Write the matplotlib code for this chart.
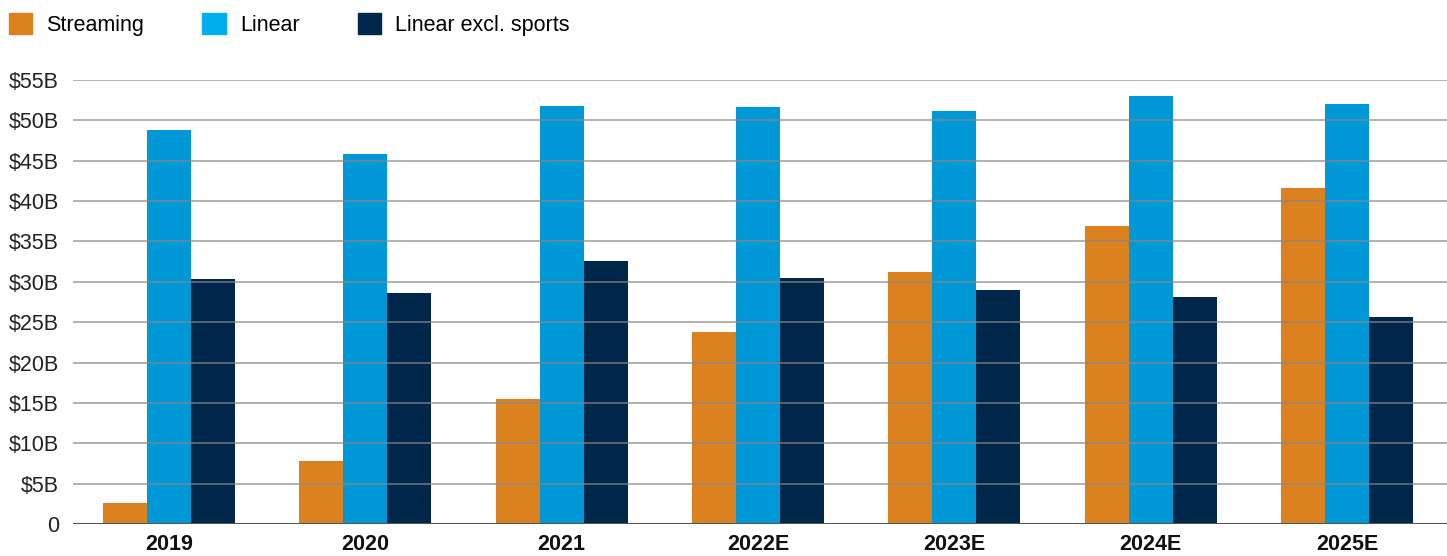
import matplotlib
matplotlib.use("Agg")
import matplotlib.pyplot as plt
from matplotlib.patches import Patch
import numpy as np

plt.rcParams['font.family'] = ['Liberation Sans', 'DejaVu Sans']

years = ['2019', '2020', '2021', '2022E', '2023E', '2024E', '2025E']
streaming = [2.6, 7.8, 15.5, 23.8, 31.2, 36.9, 41.6]
linear = [48.8, 45.8, 51.8, 51.7, 51.2, 53.0, 52.0]
linear_ex = [30.4, 28.6, 32.6, 30.5, 29.0, 28.1, 25.6]

c_stream = '#DC8120'
c_lin = '#0098D7'
c_lin_leg = '#00AEEF'
c_ex = '#00264A'

fig = plt.figure(figsize=(14.47, 5.56), dpi=100)
ax = fig.add_axes([0.0504, 0.0576, 0.9496, 0.7985])

x = np.arange(len(years))
w = 0.224
ax.bar(x - w, streaming, w, color=c_stream, zorder=1)
ax.bar(x, linear, w, color=c_lin, zorder=1)
ax.bar(x + w, linear_ex, w, color=c_ex, zorder=1)

yt = np.arange(0, 56, 5)
for v in yt[1:]:
    ax.axhline(v, color='#888888', lw=1.4, alpha=0.65, zorder=3)
ax.axhline(0, color='#555555', lw=1.5, zorder=3)

ax.set_ylim(0, 55)
ax.set_xlim(-0.49, 6.51)
ax.set_yticks(yt)
ax.set_yticklabels(['0'] + ['$%dB' % v for v in yt[1:]], fontsize=15.5, color='#222222')
ax.set_xticks(x)
ax.set_xticklabels(years, fontsize=15.5, fontweight='bold', color='#111111')
ax.tick_params(length=0)
ax.tick_params(axis='x', pad=7)
ax.tick_params(axis='y', pad=10)
for s in ax.spines.values():
    s.set_visible(False)

handles = [Patch(color=c_stream, label='Streaming'),
           Patch(color=c_lin_leg, label='Linear'),
           Patch(color=c_ex, label='Linear excl. sports')]
fig.legend(handles=handles, loc='upper left', bbox_to_anchor=(-0.003, 1.0), ncol=3,
           frameon=False, fontsize=15.5, handlelength=1.1, handleheight=1.1,
           handletextpad=0.65, columnspacing=2.7, borderaxespad=0.2)

plt.savefig('out.png', dpi=100)
